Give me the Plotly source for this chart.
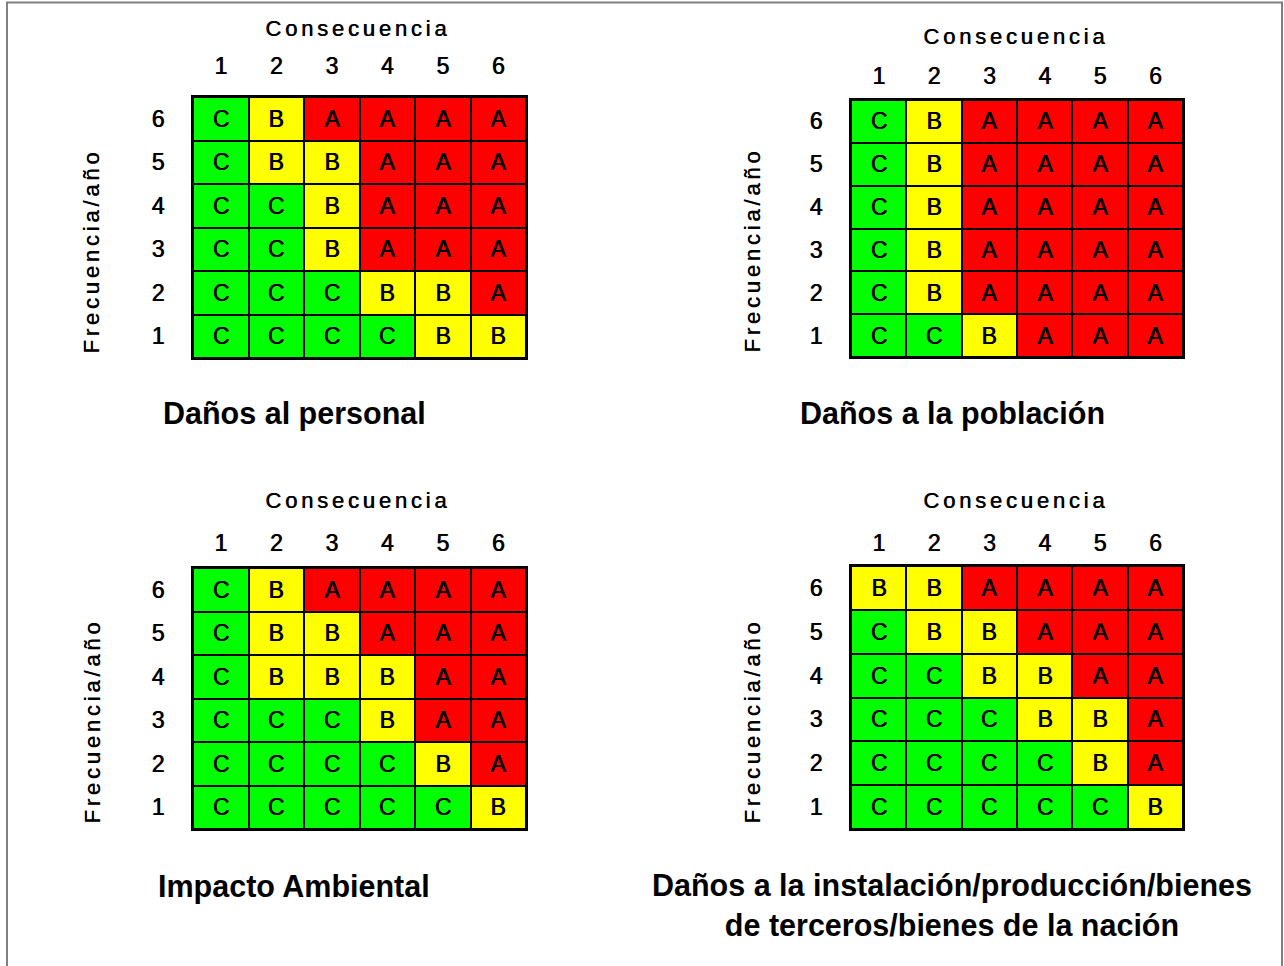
import plotly.graph_objects as go

consecuencia = [1, 2, 3, 4, 5, 6]
frecuencia = [6, 5, 4, 3, 2, 1]

personal = [
    ["C", "B", "A", "A", "A", "A"],
    ["C", "B", "B", "A", "A", "A"],
    ["C", "C", "B", "A", "A", "A"],
    ["C", "C", "B", "A", "A", "A"],
    ["C", "C", "C", "B", "B", "A"],
    ["C", "C", "C", "C", "B", "B"],
]
poblacion = [
    ["C", "B", "A", "A", "A", "A"],
    ["C", "B", "A", "A", "A", "A"],
    ["C", "B", "A", "A", "A", "A"],
    ["C", "B", "A", "A", "A", "A"],
    ["C", "B", "A", "A", "A", "A"],
    ["C", "C", "B", "A", "A", "A"],
]
ambiental = [
    ["C", "B", "A", "A", "A", "A"],
    ["C", "B", "B", "A", "A", "A"],
    ["C", "B", "B", "B", "A", "A"],
    ["C", "C", "C", "B", "A", "A"],
    ["C", "C", "C", "C", "B", "A"],
    ["C", "C", "C", "C", "C", "B"],
]
instalacion = [
    ["B", "B", "A", "A", "A", "A"],
    ["C", "B", "B", "A", "A", "A"],
    ["C", "C", "B", "B", "A", "A"],
    ["C", "C", "C", "B", "B", "A"],
    ["C", "C", "C", "C", "B", "A"],
    ["C", "C", "C", "C", "C", "B"],
]
titles = [
    "Daños al personal",
    "Daños a la población",
    "Impacto Ambiental",
    "Daños a la instalación/producción/bienes<br>de terceros/bienes de la nación",
]
level_value = {"C": 0, "B": 1, "A": 2}
colors = ["#00FF00", "#FFFF00", "#FF0000"]

W, H = 1284, 966
FONT = "Liberation Sans, Arial, sans-serif"
HEAVY = "0.6px 0px 0px black"

# pixel layout of each grid: (left, right, top, bottom)
grids = [
    (193, 526, 97, 358),
    (851, 1183, 100, 357),
    (193, 526, 568, 829),
    (851, 1183, 566, 829),
]
xstandoff = [12, 5, 6, 4]
cons_pos = [(358, 28), (1016, 37), (358, 500), (1016, 500)]
frec_pos = [(92, 251), (752, 250), (92, 721), (752, 721)]
title_pos = [(294, 413), (952, 413), (294, 886), (952, 905)]

mats = [personal, poblacion, ambiental, instalacion]

fig = go.Figure()
annotations = []
for i, (mat, (l, r, t, b)) in enumerate(zip(mats, grids)):
    k = "" if i == 0 else str(i + 1)
    z = [[level_value[c] for c in row] for row in mat]
    fig.add_trace(go.Heatmap(
        x=consecuencia, y=frecuencia, z=z, text=mat,
        texttemplate="%{text}",
        textfont=dict(family=FONT, size=23, color="black", shadow=HEAVY),
        colorscale=[[0, colors[0]], [0.5, colors[1]], [1, colors[2]]],
        zmin=0, zmax=2, showscale=False, xgap=2, ygap=2,
        hoverinfo="skip",
        xaxis="x" + k, yaxis="y" + k,
    ))
    axis_common = dict(
        showgrid=False, zeroline=False, showline=True, mirror=True,
        linecolor="black", linewidth=2, ticks="", fixedrange=True,
        tickfont=dict(family=FONT, size=23, color="black", shadow=HEAVY),
        range=[0.5, 6.5], tickmode="array", tickvals=consecuencia,
    )
    fig.update_layout(**{
        "xaxis" + k: dict(axis_common, domain=[l / W, r / W], side="top",
                           anchor="y" + k, ticklabelstandoff=xstandoff[i]),
        "yaxis" + k: dict(axis_common, domain=[1 - b / H, 1 - t / H],
                           anchor="x" + k, ticklabelstandoff=22),
    })
    common_ann = dict(xref="paper", yref="paper", showarrow=False,
                      xanchor="center", yanchor="middle")
    cx, cy = cons_pos[i]
    annotations.append(dict(common_ann, text="Consecuencia", x=cx / W, y=1 - cy / H,
                            font=dict(family=FONT, size=22, color="black",
                                      shadow=HEAVY)))
    fx, fy = frec_pos[i]
    annotations.append(dict(common_ann, text="Frecuencia/año", x=fx / W, y=1 - fy / H,
                            textangle=-90,
                            font=dict(family=FONT, size=22, color="black",
                                      shadow=HEAVY)))
    tx, ty = title_pos[i]
    annotations.append(dict(common_ann, text="<b>" + titles[i] + "</b>",
                            x=tx / W, y=1 - ty / H,
                            font=dict(family=FONT, size=30.5, color="black")))

fig.update_layout(
    width=W, height=H, margin=dict(l=0, r=0, t=0, b=0),
    paper_bgcolor="white", plot_bgcolor="black",
    annotations=annotations, showlegend=False,
    shapes=[dict(type="rect", xref="paper", yref="paper",
                 x0=7 / W, x1=1282 / W, y0=-0.05, y1=1 - 2.5 / H,
                 line=dict(color="#7f7f7f", width=2))],
)

post = """
document.body.style.margin = '0';
document.body.style.padding = '0';
document.body.style.overflow = 'hidden';
var gd = document.getElementById('{plot_id}');
function spaceOut() {
  gd.querySelectorAll('.annotation-text').forEach(function (el) {
    var t = el.textContent;
    if (t === 'Consecuencia' || t === 'Frecuencia/año') {
      el.style.letterSpacing = '3.8px';
    }
  });
}
spaceOut();
gd.on('plotly_afterplot', spaceOut);
"""
fig.write_html("out.html", post_script=post, config={"displayModeBar": False})
